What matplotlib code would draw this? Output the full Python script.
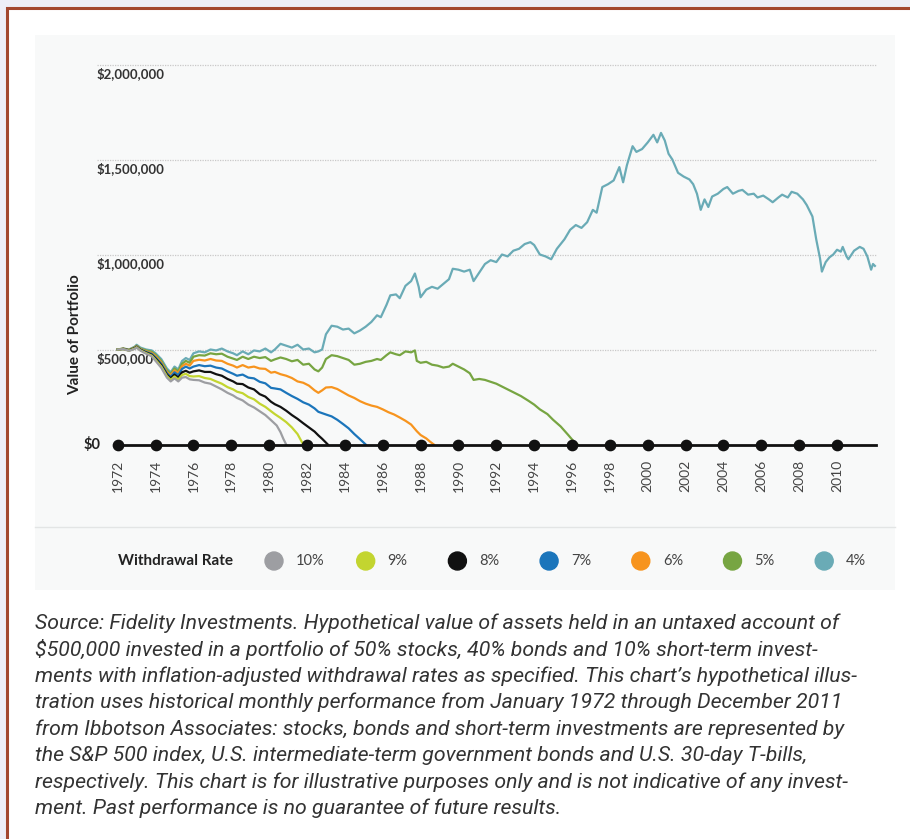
import matplotlib
matplotlib.use("Agg")
import matplotlib.pyplot as plt
from matplotlib.patches import Rectangle, Circle

# withdrawal-rate paths, value of portfolio in $ thousands
yrs_4 = [1972.0, 1972.3, 1972.6, 1972.9, 1973.0, 1973.2, 1973.5, 1973.8, 1974.0, 1974.3,
         1974.6, 1974.8, 1975.0, 1975.2, 1975.4, 1975.6, 1975.8, 1976.0, 1976.3, 1976.6,
         1976.9, 1977.2, 1977.5, 1977.8, 1978.1, 1978.3, 1978.6, 1978.9, 1979.2, 1979.5,
         1979.8, 1980.1, 1980.3, 1980.6, 1980.9, 1981.2, 1981.5, 1981.8, 1982.1, 1982.4,
         1982.6, 1982.8, 1983.0, 1983.3, 1983.6, 1983.9, 1984.2, 1984.5, 1984.8, 1985.1,
         1985.4, 1985.7, 1985.9, 1986.2, 1986.4, 1986.7, 1986.9, 1987.2, 1987.5, 1987.7,
         1987.9, 1988.0, 1988.3, 1988.6, 1988.9, 1989.2, 1989.5, 1989.7, 1990.0, 1990.3,
         1990.6, 1990.8, 1991.1, 1991.4, 1991.7, 1992.0, 1992.3, 1992.6, 1992.9, 1993.2,
         1993.5, 1993.8, 1994.0, 1994.3, 1994.6, 1994.9, 1995.2, 1995.6, 1995.9, 1996.2,
         1996.5, 1996.8, 1997.1, 1997.3, 1997.6, 1997.9, 1998.2, 1998.5, 1998.7, 1998.9,
         1999.2, 1999.4, 1999.7, 2000.0, 2000.3, 2000.5, 2000.7, 2000.9, 2001.1, 2001.3,
         2001.6, 2001.9, 2002.2, 2002.4, 2002.6, 2002.8, 2003.0, 2003.2, 2003.4, 2003.7,
         2004.0, 2004.2, 2004.5, 2004.8, 2005.0, 2005.3, 2005.6, 2005.8, 2006.1, 2006.4,
         2006.6, 2006.9, 2007.1, 2007.4, 2007.6, 2007.9, 2008.2, 2008.4, 2008.7, 2008.9,
         2009.1, 2009.2, 2009.4, 2009.6, 2009.8, 2010.0, 2010.2, 2010.3, 2010.5, 2010.6,
         2010.9, 2011.2, 2011.4, 2011.6, 2011.8, 2011.9, 2012.0]
val_4 = [500, 505, 500, 515, 525, 510, 500, 495, 480, 450,
         400, 380, 410, 395, 440, 455, 445, 480, 490, 485,
         500, 495, 505, 490, 480, 470, 490, 475, 495, 490,
         505, 485, 500, 530, 520, 510, 525, 500, 505, 485,
         490, 500, 580, 625, 620, 605, 610, 585, 600, 620,
         645, 680, 670, 735, 785, 790, 770, 835, 860, 900,
         830, 775, 815, 830, 820, 845, 870, 925, 920, 910,
         920, 860, 905, 950, 970, 960, 1000, 990, 1020, 1030,
         1055, 1065, 1050, 1000, 990, 975, 1030, 1080, 1130, 1155,
         1140, 1170, 1235, 1220, 1355, 1370, 1390, 1460, 1380, 1470,
         1570, 1540, 1555, 1590, 1630, 1590, 1640, 1600, 1530, 1500,
         1430, 1410, 1395, 1370, 1320, 1235, 1290, 1250, 1305, 1320,
         1345, 1355, 1320, 1335, 1340, 1315, 1320, 1300, 1310, 1290,
         1275, 1300, 1315, 1300, 1330, 1320, 1290, 1260, 1200, 1080,
         980, 910, 960, 985, 1000, 1025, 1015, 1040, 990, 975,
         1020, 1040, 1030, 990, 920, 950, 940]

yrs_5 = [1972.0, 1972.3, 1972.6, 1972.9, 1973.0, 1973.2, 1973.5, 1973.8, 1974.0, 1974.3,
         1974.6, 1974.8, 1975.0, 1975.2, 1975.4, 1975.6, 1975.8, 1976.0, 1976.3, 1976.6,
         1976.9, 1977.2, 1977.5, 1977.8, 1978.1, 1978.3, 1978.6, 1978.9, 1979.2, 1979.5,
         1979.8, 1980.1, 1980.3, 1980.6, 1980.9, 1981.2, 1981.5, 1981.8, 1982.1, 1982.4,
         1982.6, 1982.8, 1983.0, 1983.3, 1983.6, 1983.9, 1984.2, 1984.5, 1984.8, 1985.1,
         1985.4, 1985.7, 1985.9, 1986.2, 1986.4, 1986.7, 1986.9, 1987.2, 1987.5, 1987.7,
         1987.8, 1988.0, 1988.3, 1988.6, 1988.9, 1989.2, 1989.5, 1989.7, 1990.0, 1990.3,
         1990.6, 1990.8, 1991.1, 1991.4, 1991.7, 1992.0, 1992.3, 1992.6, 1992.9, 1993.3,
         1993.7, 1994.0, 1994.3, 1994.7, 1995.0, 1995.4, 1995.8, 1996.1, 1996.3]
val_5 = [500, 505, 498, 512, 520, 505, 495, 488, 472, 440,
         390, 372, 400, 385, 425, 440, 430, 462, 470, 468,
         480, 475, 478, 462, 452, 445, 462, 450, 462, 455,
         460, 440, 448, 458, 450, 438, 445, 420, 425, 395,
         385, 405, 450, 470, 465, 455, 445, 420, 425, 435,
         440, 450, 445, 470, 485, 475, 470, 490, 485, 495,
         440, 430, 435, 420, 415, 405, 410, 425, 410, 395,
         375, 340, 345, 340, 330, 320, 305, 290, 275, 255,
         230, 210, 185, 160, 130, 95, 50, 15, 0]

yrs_6 = [1972.0, 1972.3, 1972.6, 1972.9, 1973.0, 1973.2, 1973.5, 1973.8, 1974.0, 1974.3,
         1974.6, 1974.8, 1975.0, 1975.2, 1975.4, 1975.6, 1975.8, 1976.0, 1976.3, 1976.6,
         1976.9, 1977.2, 1977.5, 1977.8, 1978.1, 1978.3, 1978.6, 1978.9, 1979.2, 1979.5,
         1979.8, 1980.1, 1980.3, 1980.6, 1980.9, 1981.2, 1981.5, 1981.8, 1982.1, 1982.4,
         1982.6, 1982.8, 1983.0, 1983.3, 1983.6, 1983.9, 1984.2, 1984.5, 1984.8, 1985.1,
         1985.4, 1985.7, 1986.0, 1986.3, 1986.6, 1986.9, 1987.2, 1987.5, 1987.8, 1988.0,
         1988.3, 1988.5, 1988.7]
val_6 = [500, 504, 497, 510, 518, 502, 490, 482, 465, 432,
         382, 364, 390, 375, 412, 425, 415, 440, 446, 442,
         450, 442, 440, 425, 415, 405, 418, 405, 410, 400,
         398, 378, 382, 370, 362, 350, 332, 325, 310, 285,
         272, 285, 300, 302, 292, 275, 258, 245, 228, 215,
         205, 198, 185, 170, 158, 142, 125, 105, 70, 50,
         32, 15, 0]

yrs_7 = [1972.0, 1972.3, 1972.6, 1972.9, 1973.0, 1973.2, 1973.5, 1973.8, 1974.0, 1974.3,
         1974.6, 1974.8, 1975.0, 1975.2, 1975.4, 1975.6, 1975.8, 1976.0, 1976.3, 1976.6,
         1976.9, 1977.2, 1977.5, 1977.8, 1978.1, 1978.3, 1978.6, 1978.9, 1979.2, 1979.5,
         1979.8, 1980.1, 1980.3, 1980.6, 1980.9, 1981.2, 1981.5, 1981.8, 1982.1, 1982.4,
         1982.6, 1982.8, 1983.0, 1983.3, 1983.6, 1983.9, 1984.2, 1984.5, 1984.8, 1985.1]
val_7 = [500, 503, 496, 508, 516, 500, 487, 477, 458, 425,
         375, 356, 380, 365, 398, 410, 400, 410, 418, 412,
         415, 405, 400, 385, 372, 362, 368, 352, 348, 330,
         322, 298, 295, 290, 272, 255, 240, 222, 210, 190,
         172, 165, 158, 148, 130, 108, 85, 55, 28, 0]

yrs_8 = [1972.0, 1972.3, 1972.6, 1972.9, 1973.0, 1973.2, 1973.5, 1973.8, 1974.0, 1974.3,
         1974.6, 1974.8, 1975.0, 1975.2, 1975.4, 1975.6, 1975.8, 1976.0, 1976.3, 1976.6,
         1976.9, 1977.2, 1977.5, 1977.8, 1978.1, 1978.3, 1978.6, 1978.9, 1979.2, 1979.5,
         1979.8, 1980.1, 1980.3, 1980.6, 1980.9, 1981.2, 1981.5, 1981.8, 1982.1, 1982.4,
         1982.6, 1982.8, 1983.1]
val_8 = [500, 503, 495, 507, 514, 498, 484, 472, 452, 418,
         368, 348, 368, 352, 380, 388, 378, 385, 390, 382,
         382, 370, 362, 345, 332, 320, 318, 300, 290, 265,
         252, 225, 212, 198, 178, 155, 135, 112, 90, 68,
         48, 30, 0]

yrs_9 = [1972.0, 1972.3, 1972.6, 1972.9, 1973.0, 1973.2, 1973.5, 1973.8, 1974.0, 1974.3,
         1974.6, 1974.8, 1975.0, 1975.2, 1975.4, 1975.6, 1975.8, 1976.0, 1976.3, 1976.6,
         1976.9, 1977.2, 1977.5, 1977.8, 1978.1, 1978.3, 1978.6, 1978.9, 1979.2, 1979.5,
         1979.8, 1980.1, 1980.3, 1980.6, 1980.9, 1981.2, 1981.5, 1981.8]
val_9 = [500, 502, 494, 505, 512, 496, 481, 468, 446, 411,
         360, 340, 358, 342, 366, 372, 360, 358, 360, 350,
         345, 332, 320, 302, 290, 278, 270, 250, 238, 215,
         198, 175, 160, 140, 118, 90, 55, 0]

yrs_10 = [1972.0, 1972.3, 1972.6, 1972.9, 1973.0, 1973.2, 1973.5, 1973.8, 1974.0, 1974.3,
          1974.6, 1974.8, 1975.0, 1975.2, 1975.4, 1975.6, 1975.8, 1976.0, 1976.3, 1976.6,
          1976.9, 1977.2, 1977.5, 1977.8, 1978.1, 1978.3, 1978.6, 1978.9, 1979.2, 1979.5,
          1979.8, 1980.1, 1980.4, 1980.6, 1980.75, 1980.9]
val_10 = [500, 502, 493, 503, 510, 494, 478, 464, 440, 404,
          352, 332, 348, 332, 352, 355, 343, 340, 338, 326,
          320, 305, 290, 272, 258, 245, 232, 210, 195, 175,
          155, 128, 100, 65, 30, 0]

rate_labels = ["10%", "9%", "8%", "7%", "6%", "5%", "4%"]
rate_colors = ["#9d9ea2", "#c3d530", "#111111", "#1b75bb", "#f7941e", "#77a542", "#6aabb6"]
series_years = [yrs_10, yrs_9, yrs_8, yrs_7, yrs_6, yrs_5, yrs_4]
series_vals = [val_10, val_9, val_8, val_7, val_6, val_5, val_4]

grid_vals = [500000, 1000000, 1500000, 2000000]
grid_labels = ["$500,000", "$1,000,000", "$1,500,000", "$2,000,000"]
tick_years = list(range(1972, 2011, 2))
axis_end_year = 2012.05

caption = [
    "Source: Fidelity Investments. Hypothetical value of assets held in an untaxed account of",
    "$500,000 invested in a portfolio of 50% stocks, 40% bonds and 10% short-term invest-",
    "ments with inflation-adjusted withdrawal rates as specified. This chart\u2019s hypothetical illus-",
    "tration uses historical monthly performance from January 1972 through December 2011",
    "from Ibbotson Associates: stocks, bonds and short-term investments are represented by",
    "the S&P 500 index, U.S. intermediate-term government bonds and U.S. 30-day T-bills,",
    "respectively. This chart is for illustrative purposes only and is not indicative of any invest-",
    "ment. Past performance is no guarantee of future results.",
]

plt.rcParams['font.family'] = ['Lato', 'DejaVu Sans']

W, H = 910, 839
fig = plt.figure(figsize=(W / 100, H / 100), dpi=100)
fig.patch.set_facecolor('#eeeef7')

# page frame, panel and legend strip, in pixel units
bg = fig.add_axes([0, 0, 1, 1])
bg.set_xlim(0, W)
bg.set_ylim(H, 0)
bg.axis('off')
bg.add_patch(Rectangle((7, 8), W, H, facecolor='white', edgecolor='#a3472f', lw=2.2))
bg.add_patch(Rectangle((35, 35), 860, 555, facecolor='#f8f9f9', edgecolor='none'))
bg.plot([35, 895], [527, 527], color='#e3e5e5', lw=1)

bg.text(118, 561, 'Withdrawal Rate', fontweight='bold', fontsize=11, va='center', color='#222222')
for i, (lab, col) in enumerate(zip(rate_labels, rate_colors)):
    cx = 274 + i * 91.7
    bg.add_patch(Circle((cx, 561), 9, color=col))
    bg.text(cx + 22, 561, lab, va='center', fontsize=10.5, color='#444444')

# main chart
x0, x1, y_top, y_bot = 97, 880, 55, 452
ax = fig.add_axes([x0 / W, 1 - y_bot / H, (x1 - x0) / W, (y_bot - y_top) / H])
px_yr = 18.93
ax.set_xlim(1972 - (117.7 - x0) / px_yr, 1972 + (x1 - 117.7) / px_yr)
px_val = 190 / 1e6
ax.set_ylim(-(y_bot - 444.5) / px_val, (444.5 - y_top) / px_val)
ax.patch.set_alpha(0)
for s in ax.spines.values():
    s.set_visible(False)

for v, lab in zip(grid_vals, grid_labels):
    ax.axhline(v, xmax=0.996, color='#c9c9c9', lw=0.9, ls=(0, (1, 1)), zorder=1)
    ax.annotate(lab, xy=(0, v), xycoords=('axes fraction', 'data'), xytext=(0, -3),
                textcoords='offset pixels', ha='left', va='top', fontsize=9.5,
                fontweight='bold', color='#333333')
ax.annotate('$0', xy=(0, 0), xycoords=('axes fraction', 'data'), xytext=(4, 0),
            textcoords='offset pixels', ha='right', va='center', fontsize=10.5,
            fontweight='bold', color='#222222')

for yrs, vals, col in zip(series_years[::-1], series_vals[::-1], rate_colors[::-1]):
    ax.plot(yrs, [v * 1000 for v in vals], color=col, lw=1.6, zorder=3)

ax.plot([tick_years[0], axis_end_year], [0, 0], color='#111111', lw=2, zorder=4)
ax.scatter(tick_years, [0] * len(tick_years), s=55, color='#111111', zorder=5)

ax.set_yticks([])
ax.set_xticks(tick_years)
ax.set_xticklabels([str(y) for y in tick_years], rotation=90, fontsize=10, color='#444444')
ax.tick_params(axis='x', length=0, pad=5.5)

fig.text(75 / W, 1 - 335 / H, 'Value of Portfolio', rotation=90, fontweight='bold',
         fontsize=11, ha='center', va='center', color='#222222')

for i, line in enumerate(caption):
    fig.text(35 / W, 1 - (623 + i * 26.5) / H, line, style='italic', fontsize=15.3,
             va='center', ha='left', color='#333333', family=['Roboto', 'DejaVu Sans'])

fig.savefig('out.png', dpi=100, facecolor=fig.get_facecolor())
